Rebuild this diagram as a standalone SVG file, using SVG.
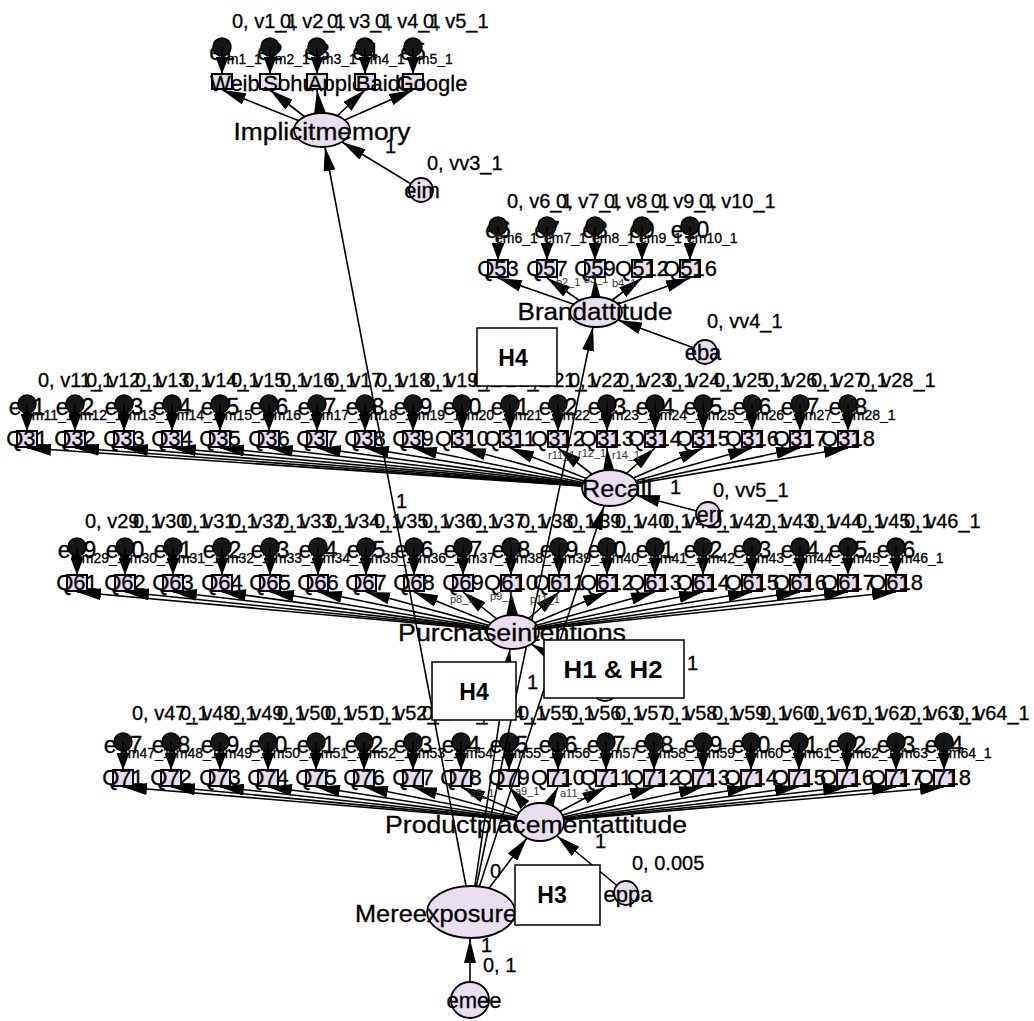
<svg xmlns="http://www.w3.org/2000/svg" width="1034" height="1021" viewBox="0 0 1034 1021">
<style>
text{font-family:"Liberation Sans",Arial,sans-serif;fill:#000;stroke:#000;stroke-width:0.3}
.p{font-size:20px}
.eb{font-size:23px;text-anchor:middle}
.es{font-size:14px}
.q{font-size:22px;text-anchor:middle}
.ql{font-size:22px;text-anchor:middle}
.lat{font-size:23px;text-anchor:middle}
.sm{font-size:11px;fill:#333;stroke:none}
.bx{fill:#e6ddf0;stroke:#000;stroke-width:2}
.ec{fill:#161616;stroke:#000;stroke-width:1.5}
.lv{fill:#e8e0f1;stroke:#000;stroke-width:1.8}
.c path{stroke:#000;stroke-width:1.6;fill:none}
.big path{marker-end:url(#ah)}
.sml path{marker-end:url(#as)}
.h{fill:#fff;stroke:#000;stroke-width:1.5}
.ht{font-weight:bold;font-size:23px;text-anchor:middle;stroke:none}
</style>
<defs>
<marker id="ah" markerUnits="userSpaceOnUse" markerWidth="24" markerHeight="12" refX="24" refY="6" orient="auto"><path d="M0,0 L24,6 L0,12 z" fill="#000"/></marker>
<marker id="as" markerUnits="userSpaceOnUse" markerWidth="17" markerHeight="13" refX="17" refY="6.5" orient="auto"><path d="M0,0 L17,6.5 L0,13 z" fill="#000"/></marker>
</defs>
<rect width="1034" height="1021" fill="#fff"/>

<!-- Layer 1: Implicit memory indicators -->
<g id="ind-implicit">
<g id="Weibo"><rect class="bx" x="212" y="74" width="20" height="15"/><text class="ql" x="241" y="91">Weibo</text></g>
<g id="Sohu"><rect class="bx" x="260" y="74" width="20" height="15"/><text class="ql" x="289" y="91">Sohu</text></g>
<g id="Apple"><rect class="bx" x="307" y="74" width="20" height="15"/><text class="ql" x="336" y="91">Apple</text></g>
<g id="Baidu"><rect class="bx" x="355" y="74" width="20" height="15"/><text class="ql" x="384" y="91">Baidu</text></g>
<g id="Google"><rect class="bx" x="403" y="74" width="20" height="15"/><text class="ql" x="432" y="91">Google</text></g>
</g>
<g id="err-implicit">
<g id="e1"><text class="eb" x="222" y="60">e1</text><text class="es" x="219" y="64">em1_1</text><circle class="ec" cx="222" cy="47" r="9"/><text class="p" x="232" y="28">0, v1_1</text></g>
<g id="e2"><text class="eb" x="270" y="60">e2</text><text class="es" x="267" y="64">em2_1</text><circle class="ec" cx="270" cy="47" r="9"/><text class="p" x="280" y="28">0, v2_1</text></g>
<g id="e3"><text class="eb" x="317" y="60">e3</text><text class="es" x="314" y="64">em3_1</text><circle class="ec" cx="317" cy="47" r="9"/><text class="p" x="327" y="28">0, v3_1</text></g>
<g id="e4"><text class="eb" x="365" y="60">e4</text><text class="es" x="362" y="64">em4_1</text><circle class="ec" cx="365" cy="47" r="9"/><text class="p" x="375" y="28">0, v4_1</text></g>
<g id="e5"><text class="eb" x="413" y="60">e5</text><text class="es" x="410" y="64">em5_1</text><circle class="ec" cx="413" cy="47" r="9"/><text class="p" x="423" y="28">0, v5_1</text></g>
</g>

<!-- Layer 2: Brand attitude indicators -->
<g id="ind-brand">
<g id="Q53"><rect class="bx" x="488" y="260" width="20" height="17"/><text class="q" x="498" y="276">Q53</text></g>
<g id="Q57"><rect class="bx" x="537" y="260" width="20" height="17"/><text class="q" x="547" y="276">Q57</text></g>
<g id="Q59"><rect class="bx" x="585" y="260" width="20" height="17"/><text class="q" x="595" y="276">Q59</text></g>
<g id="Q512"><rect class="bx" x="632" y="260" width="20" height="17"/><text class="q" x="642" y="276">Q512</text></g>
<g id="Q516"><rect class="bx" x="680" y="260" width="20" height="17"/><text class="q" x="690" y="276">Q516</text></g>
</g>
<g id="err-brand">
<g id="e6"><text class="eb" x="498" y="238">e6</text><text class="es" x="495" y="243">em6_1</text><circle class="ec" cx="498" cy="226" r="9"/><text class="p" x="507" y="208">0, v6_1</text></g>
<g id="e7"><text class="eb" x="547" y="238">e7</text><text class="es" x="544" y="243">em7_1</text><circle class="ec" cx="547" cy="226" r="9"/><text class="p" x="556" y="208">0, v7_1</text></g>
<g id="e8"><text class="eb" x="595" y="238">e8</text><text class="es" x="592" y="243">em8_1</text><circle class="ec" cx="595" cy="226" r="9"/><text class="p" x="604" y="208">0, v8_1</text></g>
<g id="e9"><text class="eb" x="642" y="238">e9</text><text class="es" x="639" y="243">em9_1</text><circle class="ec" cx="642" cy="226" r="9"/><text class="p" x="651" y="208">0, v9_1</text></g>
<g id="e10"><text class="eb" x="690" y="238">e10</text><text class="es" x="687" y="243">em10_1</text><circle class="ec" cx="690" cy="226" r="9"/><text class="p" x="699" y="208">0, v10_1</text></g>
</g>

<!-- Layer 3: Recall indicators -->
<g id="ind-recall">
<g id="Q31"><rect class="bx" x="17" y="431" width="20" height="16"/><text class="q" x="27" y="446">Q31</text></g>
<g id="Q32"><rect class="bx" x="65" y="431" width="20" height="16"/><text class="q" x="75" y="446">Q32</text></g>
<g id="Q33"><rect class="bx" x="114" y="431" width="20" height="16"/><text class="q" x="124" y="446">Q33</text></g>
<g id="Q34"><rect class="bx" x="162" y="431" width="20" height="16"/><text class="q" x="172" y="446">Q34</text></g>
<g id="Q35"><rect class="bx" x="210" y="431" width="20" height="16"/><text class="q" x="220" y="446">Q35</text></g>
<g id="Q36"><rect class="bx" x="259" y="431" width="20" height="16"/><text class="q" x="269" y="446">Q36</text></g>
<g id="Q37"><rect class="bx" x="307" y="431" width="20" height="16"/><text class="q" x="317" y="446">Q37</text></g>
<g id="Q38"><rect class="bx" x="355" y="431" width="20" height="16"/><text class="q" x="365" y="446">Q38</text></g>
<g id="Q39"><rect class="bx" x="403" y="431" width="20" height="16"/><text class="q" x="413" y="446">Q39</text></g>
<g id="Q310"><rect class="bx" x="452" y="431" width="20" height="16"/><text class="q" x="462" y="446">Q310</text></g>
<g id="Q311"><rect class="bx" x="500" y="431" width="20" height="16"/><text class="q" x="510" y="446">Q311</text></g>
<g id="Q312"><rect class="bx" x="548" y="431" width="20" height="16"/><text class="q" x="558" y="446">Q312</text></g>
<g id="Q313"><rect class="bx" x="597" y="431" width="20" height="16"/><text class="q" x="607" y="446">Q313</text></g>
<g id="Q314"><rect class="bx" x="645" y="431" width="20" height="16"/><text class="q" x="655" y="446">Q314</text></g>
<g id="Q315"><rect class="bx" x="693" y="431" width="20" height="16"/><text class="q" x="703" y="446">Q315</text></g>
<g id="Q316"><rect class="bx" x="742" y="431" width="20" height="16"/><text class="q" x="752" y="446">Q316</text></g>
<g id="Q317"><rect class="bx" x="790" y="431" width="20" height="16"/><text class="q" x="800" y="446">Q317</text></g>
<g id="Q318"><rect class="bx" x="838" y="431" width="20" height="16"/><text class="q" x="848" y="446">Q318</text></g>
</g>
<g id="err-recall">
<g id="e11"><text class="eb" x="27" y="415">e11</text><text class="es" x="24" y="420">em11_1</text><circle class="ec" cx="27" cy="404" r="9"/><text class="p" x="38" y="387">0, v11_1</text></g>
<g id="e12"><text class="eb" x="75" y="415">e12</text><text class="es" x="72" y="420">em12_1</text><circle class="ec" cx="75" cy="404" r="9"/><text class="p" x="86" y="387">0, v12_1</text></g>
<g id="e13"><text class="eb" x="124" y="415">e13</text><text class="es" x="121" y="420">em13_1</text><circle class="ec" cx="124" cy="404" r="9"/><text class="p" x="135" y="387">0, v13_1</text></g>
<g id="e14"><text class="eb" x="172" y="415">e14</text><text class="es" x="169" y="420">em14_1</text><circle class="ec" cx="172" cy="404" r="9"/><text class="p" x="183" y="387">0, v14_1</text></g>
<g id="e15"><text class="eb" x="220" y="415">e15</text><text class="es" x="217" y="420">em15_1</text><circle class="ec" cx="220" cy="404" r="9"/><text class="p" x="231" y="387">0, v15_1</text></g>
<g id="e16"><text class="eb" x="269" y="415">e16</text><text class="es" x="266" y="420">em16_1</text><circle class="ec" cx="269" cy="404" r="9"/><text class="p" x="280" y="387">0, v16_1</text></g>
<g id="e17"><text class="eb" x="317" y="415">e17</text><text class="es" x="314" y="420">em17_1</text><circle class="ec" cx="317" cy="404" r="9"/><text class="p" x="328" y="387">0, v17_1</text></g>
<g id="e18"><text class="eb" x="365" y="415">e18</text><text class="es" x="362" y="420">em18_1</text><circle class="ec" cx="365" cy="404" r="9"/><text class="p" x="376" y="387">0, v18_1</text></g>
<g id="e19"><text class="eb" x="413" y="415">e19</text><text class="es" x="410" y="420">em19_1</text><circle class="ec" cx="413" cy="404" r="9"/><text class="p" x="424" y="387">0, v19_1</text></g>
<g id="e20"><text class="eb" x="462" y="415">e20</text><text class="es" x="459" y="420">em20_1</text><circle class="ec" cx="462" cy="404" r="9"/><text class="p" x="473" y="387">0, v20_1</text></g>
<g id="e21"><text class="eb" x="510" y="415">e21</text><text class="es" x="507" y="420">em21_1</text><circle class="ec" cx="510" cy="404" r="9"/><text class="p" x="521" y="387">0, v21_1</text></g>
<g id="e22"><text class="eb" x="558" y="415">e22</text><text class="es" x="555" y="420">em22_1</text><circle class="ec" cx="558" cy="404" r="9"/><text class="p" x="569" y="387">0, v22_1</text></g>
<g id="e23"><text class="eb" x="607" y="415">e23</text><text class="es" x="604" y="420">em23_1</text><circle class="ec" cx="607" cy="404" r="9"/><text class="p" x="618" y="387">0, v23_1</text></g>
<g id="e24"><text class="eb" x="655" y="415">e24</text><text class="es" x="652" y="420">em24_1</text><circle class="ec" cx="655" cy="404" r="9"/><text class="p" x="666" y="387">0, v24_1</text></g>
<g id="e25"><text class="eb" x="703" y="415">e25</text><text class="es" x="700" y="420">em25_1</text><circle class="ec" cx="703" cy="404" r="9"/><text class="p" x="714" y="387">0, v25_1</text></g>
<g id="e26"><text class="eb" x="752" y="415">e26</text><text class="es" x="749" y="420">em26_1</text><circle class="ec" cx="752" cy="404" r="9"/><text class="p" x="763" y="387">0, v26_1</text></g>
<g id="e27"><text class="eb" x="800" y="415">e27</text><text class="es" x="797" y="420">em27_1</text><circle class="ec" cx="800" cy="404" r="9"/><text class="p" x="811" y="387">0, v27_1</text></g>
<g id="e28"><text class="eb" x="848" y="415">e28</text><text class="es" x="845" y="420">em28_1</text><circle class="ec" cx="848" cy="404" r="9"/><text class="p" x="859" y="387">0, v28_1</text></g>
</g>

<!-- Layer 4: Purchase intentions indicators -->
<g id="ind-purchase">
<g id="Q61"><rect class="bx" x="67" y="575" width="20" height="16"/><text class="q" x="77" y="590">Q61</text></g>
<g id="Q62"><rect class="bx" x="115" y="575" width="20" height="16"/><text class="q" x="125" y="590">Q62</text></g>
<g id="Q63"><rect class="bx" x="163" y="575" width="20" height="16"/><text class="q" x="173" y="590">Q63</text></g>
<g id="Q64"><rect class="bx" x="212" y="575" width="20" height="16"/><text class="q" x="222" y="590">Q64</text></g>
<g id="Q65"><rect class="bx" x="260" y="575" width="20" height="16"/><text class="q" x="270" y="590">Q65</text></g>
<g id="Q66"><rect class="bx" x="308" y="575" width="20" height="16"/><text class="q" x="318" y="590">Q66</text></g>
<g id="Q67"><rect class="bx" x="356" y="575" width="20" height="16"/><text class="q" x="366" y="590">Q67</text></g>
<g id="Q68"><rect class="bx" x="404" y="575" width="20" height="16"/><text class="q" x="414" y="590">Q68</text></g>
<g id="Q69"><rect class="bx" x="453" y="575" width="20" height="16"/><text class="q" x="463" y="590">Q69</text></g>
<g id="Q610"><rect class="bx" x="501" y="575" width="20" height="16"/><text class="q" x="511" y="590">Q610</text></g>
<g id="Q611"><rect class="bx" x="549" y="575" width="20" height="16"/><text class="q" x="559" y="590">Q611</text></g>
<g id="Q612"><rect class="bx" x="597" y="575" width="20" height="16"/><text class="q" x="607" y="590">Q612</text></g>
<g id="Q613"><rect class="bx" x="645" y="575" width="20" height="16"/><text class="q" x="655" y="590">Q613</text></g>
<g id="Q614"><rect class="bx" x="693" y="575" width="20" height="16"/><text class="q" x="703" y="590">Q614</text></g>
<g id="Q615"><rect class="bx" x="742" y="575" width="20" height="16"/><text class="q" x="752" y="590">Q615</text></g>
<g id="Q616"><rect class="bx" x="790" y="575" width="20" height="16"/><text class="q" x="800" y="590">Q616</text></g>
<g id="Q617"><rect class="bx" x="838" y="575" width="20" height="16"/><text class="q" x="848" y="590">Q617</text></g>
<g id="Q618"><rect class="bx" x="886" y="575" width="20" height="16"/><text class="q" x="896" y="590">Q618</text></g>
</g>
<g id="err-purchase">
<g id="e29"><text class="eb" x="77" y="558">e29</text><text class="es" x="74" y="563">em29_1</text><circle class="ec" cx="77" cy="547" r="9"/><text class="p" x="85" y="528">0, v29_1</text></g>
<g id="e30"><text class="eb" x="125" y="558">e30</text><text class="es" x="122" y="563">em30_1</text><circle class="ec" cx="125" cy="547" r="9"/><text class="p" x="133" y="528">0, v30_1</text></g>
<g id="e31"><text class="eb" x="173" y="558">e31</text><text class="es" x="170" y="563">em31_1</text><circle class="ec" cx="173" cy="547" r="9"/><text class="p" x="181" y="528">0, v31_1</text></g>
<g id="e32"><text class="eb" x="222" y="558">e32</text><text class="es" x="219" y="563">em32_1</text><circle class="ec" cx="222" cy="547" r="9"/><text class="p" x="230" y="528">0, v32_1</text></g>
<g id="e33"><text class="eb" x="270" y="558">e33</text><text class="es" x="267" y="563">em33_1</text><circle class="ec" cx="270" cy="547" r="9"/><text class="p" x="278" y="528">0, v33_1</text></g>
<g id="e34"><text class="eb" x="318" y="558">e34</text><text class="es" x="315" y="563">em34_1</text><circle class="ec" cx="318" cy="547" r="9"/><text class="p" x="326" y="528">0, v34_1</text></g>
<g id="e35"><text class="eb" x="366" y="558">e35</text><text class="es" x="363" y="563">em35_1</text><circle class="ec" cx="366" cy="547" r="9"/><text class="p" x="374" y="528">0, v35_1</text></g>
<g id="e36"><text class="eb" x="414" y="558">e36</text><text class="es" x="411" y="563">em36_1</text><circle class="ec" cx="414" cy="547" r="9"/><text class="p" x="422" y="528">0, v36_1</text></g>
<g id="e37"><text class="eb" x="463" y="558">e37</text><text class="es" x="460" y="563">em37_1</text><circle class="ec" cx="463" cy="547" r="9"/><text class="p" x="471" y="528">0, v37_1</text></g>
<g id="e38"><text class="eb" x="511" y="558">e38</text><text class="es" x="508" y="563">em38_1</text><circle class="ec" cx="511" cy="547" r="9"/><text class="p" x="519" y="528">0, v38_1</text></g>
<g id="e39"><text class="eb" x="559" y="558">e39</text><text class="es" x="556" y="563">em39_1</text><circle class="ec" cx="559" cy="547" r="9"/><text class="p" x="567" y="528">0, v39_1</text></g>
<g id="e40"><text class="eb" x="607" y="558">e40</text><text class="es" x="604" y="563">em40_1</text><circle class="ec" cx="607" cy="547" r="9"/><text class="p" x="615" y="528">0, v40_1</text></g>
<g id="e41"><text class="eb" x="655" y="558">e41</text><text class="es" x="652" y="563">em41_1</text><circle class="ec" cx="655" cy="547" r="9"/><text class="p" x="663" y="528">0, v41_1</text></g>
<g id="e42"><text class="eb" x="703" y="558">e42</text><text class="es" x="700" y="563">em42_1</text><circle class="ec" cx="703" cy="547" r="9"/><text class="p" x="711" y="528">0, v42_1</text></g>
<g id="e43"><text class="eb" x="752" y="558">e43</text><text class="es" x="749" y="563">em43_1</text><circle class="ec" cx="752" cy="547" r="9"/><text class="p" x="760" y="528">0, v43_1</text></g>
<g id="e44"><text class="eb" x="800" y="558">e44</text><text class="es" x="797" y="563">em44_1</text><circle class="ec" cx="800" cy="547" r="9"/><text class="p" x="808" y="528">0, v44_1</text></g>
<g id="e45"><text class="eb" x="848" y="558">e45</text><text class="es" x="845" y="563">em45_1</text><circle class="ec" cx="848" cy="547" r="9"/><text class="p" x="856" y="528">0, v45_1</text></g>
<g id="e46"><text class="eb" x="896" y="558">e46</text><text class="es" x="893" y="563">em46_1</text><circle class="ec" cx="896" cy="547" r="9"/><text class="p" x="904" y="528">0, v46_1</text></g>
</g>

<!-- Layer 5: Product placement attitude indicators -->
<g id="ind-product">
<g id="Q71"><rect class="bx" x="113" y="770" width="20" height="16"/><text class="q" x="123" y="785">Q71</text></g>
<g id="Q72"><rect class="bx" x="161" y="770" width="20" height="16"/><text class="q" x="171" y="785">Q72</text></g>
<g id="Q73"><rect class="bx" x="210" y="770" width="20" height="16"/><text class="q" x="220" y="785">Q73</text></g>
<g id="Q74"><rect class="bx" x="258" y="770" width="20" height="16"/><text class="q" x="268" y="785">Q74</text></g>
<g id="Q75"><rect class="bx" x="306" y="770" width="20" height="16"/><text class="q" x="316" y="785">Q75</text></g>
<g id="Q76"><rect class="bx" x="354" y="770" width="20" height="16"/><text class="q" x="364" y="785">Q76</text></g>
<g id="Q77"><rect class="bx" x="403" y="770" width="20" height="16"/><text class="q" x="413" y="785">Q77</text></g>
<g id="Q78"><rect class="bx" x="451" y="770" width="20" height="16"/><text class="q" x="461" y="785">Q78</text></g>
<g id="Q79"><rect class="bx" x="499" y="770" width="20" height="16"/><text class="q" x="509" y="785">Q79</text></g>
<g id="Q710"><rect class="bx" x="548" y="770" width="20" height="16"/><text class="q" x="558" y="785">Q710</text></g>
<g id="Q711"><rect class="bx" x="596" y="770" width="20" height="16"/><text class="q" x="606" y="785">Q711</text></g>
<g id="Q712"><rect class="bx" x="644" y="770" width="20" height="16"/><text class="q" x="654" y="785">Q712</text></g>
<g id="Q713"><rect class="bx" x="693" y="770" width="20" height="16"/><text class="q" x="703" y="785">Q713</text></g>
<g id="Q714"><rect class="bx" x="741" y="770" width="20" height="16"/><text class="q" x="751" y="785">Q714</text></g>
<g id="Q715"><rect class="bx" x="789" y="770" width="20" height="16"/><text class="q" x="799" y="785">Q715</text></g>
<g id="Q716"><rect class="bx" x="837" y="770" width="20" height="16"/><text class="q" x="847" y="785">Q716</text></g>
<g id="Q717"><rect class="bx" x="886" y="770" width="20" height="16"/><text class="q" x="896" y="785">Q717</text></g>
<g id="Q718"><rect class="bx" x="934" y="770" width="20" height="16"/><text class="q" x="944" y="785">Q718</text></g>
</g>
<g id="err-product">
<g id="e47"><text class="eb" x="123" y="753">e47</text><text class="es" x="120" y="758">em47_1</text><circle class="ec" cx="123" cy="742" r="9"/><text class="p" x="132" y="720">0, v47_1</text></g>
<g id="e48"><text class="eb" x="171" y="753">e48</text><text class="es" x="168" y="758">em48_1</text><circle class="ec" cx="171" cy="742" r="9"/><text class="p" x="180" y="720">0, v48_1</text></g>
<g id="e49"><text class="eb" x="220" y="753">e49</text><text class="es" x="217" y="758">em49_1</text><circle class="ec" cx="220" cy="742" r="9"/><text class="p" x="229" y="720">0, v49_1</text></g>
<g id="e50"><text class="eb" x="268" y="753">e50</text><text class="es" x="265" y="758">em50_1</text><circle class="ec" cx="268" cy="742" r="9"/><text class="p" x="277" y="720">0, v50_1</text></g>
<g id="e51"><text class="eb" x="316" y="753">e51</text><text class="es" x="313" y="758">em51_1</text><circle class="ec" cx="316" cy="742" r="9"/><text class="p" x="325" y="720">0, v51_1</text></g>
<g id="e52"><text class="eb" x="364" y="753">e52</text><text class="es" x="361" y="758">em52_1</text><circle class="ec" cx="364" cy="742" r="9"/><text class="p" x="373" y="720">0, v52_1</text></g>
<g id="e53"><text class="eb" x="413" y="753">e53</text><text class="es" x="410" y="758">em53_1</text><circle class="ec" cx="413" cy="742" r="9"/><text class="p" x="422" y="720">0, v53_1</text></g>
<g id="e54"><text class="eb" x="461" y="753">e54</text><text class="es" x="458" y="758">em54_1</text><circle class="ec" cx="461" cy="742" r="9"/><text class="p" x="470" y="720">0, v54_1</text></g>
<g id="e55"><text class="eb" x="509" y="753">e55</text><text class="es" x="506" y="758">em55_1</text><circle class="ec" cx="509" cy="742" r="9"/><text class="p" x="518" y="720">0, v55_1</text></g>
<g id="e56"><text class="eb" x="558" y="753">e56</text><text class="es" x="555" y="758">em56_1</text><circle class="ec" cx="558" cy="742" r="9"/><text class="p" x="567" y="720">0, v56_1</text></g>
<g id="e57"><text class="eb" x="606" y="753">e57</text><text class="es" x="603" y="758">em57_1</text><circle class="ec" cx="606" cy="742" r="9"/><text class="p" x="615" y="720">0, v57_1</text></g>
<g id="e58"><text class="eb" x="654" y="753">e58</text><text class="es" x="651" y="758">em58_1</text><circle class="ec" cx="654" cy="742" r="9"/><text class="p" x="663" y="720">0, v58_1</text></g>
<g id="e59"><text class="eb" x="703" y="753">e59</text><text class="es" x="700" y="758">em59_1</text><circle class="ec" cx="703" cy="742" r="9"/><text class="p" x="712" y="720">0, v59_1</text></g>
<g id="e60"><text class="eb" x="751" y="753">e60</text><text class="es" x="748" y="758">em60_1</text><circle class="ec" cx="751" cy="742" r="9"/><text class="p" x="760" y="720">0, v60_1</text></g>
<g id="e61"><text class="eb" x="799" y="753">e61</text><text class="es" x="796" y="758">em61_1</text><circle class="ec" cx="799" cy="742" r="9"/><text class="p" x="808" y="720">0, v61_1</text></g>
<g id="e62"><text class="eb" x="847" y="753">e62</text><text class="es" x="844" y="758">em62_1</text><circle class="ec" cx="847" cy="742" r="9"/><text class="p" x="856" y="720">0, v62_1</text></g>
<g id="e63"><text class="eb" x="896" y="753">e63</text><text class="es" x="893" y="758">em63_1</text><circle class="ec" cx="896" cy="742" r="9"/><text class="p" x="905" y="720">0, v63_1</text></g>
<g id="e64"><text class="eb" x="944" y="753">e64</text><text class="es" x="941" y="758">em64_1</text><circle class="ec" cx="944" cy="742" r="9"/><text class="p" x="953" y="720">0, v64_1</text></g>
</g>

<!-- Connectors -->
<g id="connectors" class="c">
<g class="sml">
<path d="M222 47 L222 74"/><path d="M270 47 L270 74"/><path d="M317 47 L317 74"/><path d="M365 47 L365 74"/><path d="M413 47 L413 74"/>
<path d="M498 226 L498 260"/><path d="M547 226 L547 260"/><path d="M595 226 L595 260"/><path d="M642 226 L642 260"/><path d="M690 226 L690 260"/>
<path d="M27 404 L27 431"/><path d="M75 404 L75 431"/><path d="M124 404 L124 431"/><path d="M172 404 L172 431"/><path d="M220 404 L220 431"/><path d="M269 404 L269 431"/><path d="M317 404 L317 431"/><path d="M365 404 L365 431"/><path d="M413 404 L413 431"/><path d="M462 404 L462 431"/><path d="M510 404 L510 431"/><path d="M558 404 L558 431"/><path d="M607 404 L607 431"/><path d="M655 404 L655 431"/><path d="M703 404 L703 431"/><path d="M752 404 L752 431"/><path d="M800 404 L800 431"/><path d="M848 404 L848 431"/>
<path d="M77 547 L77 575"/><path d="M125 547 L125 575"/><path d="M173 547 L173 575"/><path d="M222 547 L222 575"/><path d="M270 547 L270 575"/><path d="M318 547 L318 575"/><path d="M366 547 L366 575"/><path d="M414 547 L414 575"/><path d="M463 547 L463 575"/><path d="M511 547 L511 575"/><path d="M559 547 L559 575"/><path d="M607 547 L607 575"/><path d="M655 547 L655 575"/><path d="M703 547 L703 575"/><path d="M752 547 L752 575"/><path d="M800 547 L800 575"/><path d="M848 547 L848 575"/><path d="M896 547 L896 575"/>
<path d="M123 742 L123 770"/><path d="M171 742 L171 770"/><path d="M220 742 L220 770"/><path d="M268 742 L268 770"/><path d="M316 742 L316 770"/><path d="M364 742 L364 770"/><path d="M413 742 L413 770"/><path d="M461 742 L461 770"/><path d="M509 742 L509 770"/><path d="M558 742 L558 770"/><path d="M606 742 L606 770"/><path d="M654 742 L654 770"/><path d="M703 742 L703 770"/><path d="M751 742 L751 770"/><path d="M799 742 L799 770"/><path d="M847 742 L847 770"/><path d="M896 742 L896 770"/><path d="M944 742 L944 770"/>
</g>
<g class="big">
<path d="M322 130 L222 90"/><path d="M322 130 L270 90"/><path d="M322 130 L317 90"/><path d="M322 130 L365 90"/><path d="M322 130 L413 90"/>
<path d="M596 312 L498 278"/><path d="M596 312 L547 278"/><path d="M596 312 L595 278"/><path d="M596 312 L642 278"/><path d="M596 312 L690 278"/>
<path d="M610 488 L27 448"/><path d="M610 488 L75 448"/><path d="M610 488 L124 448"/><path d="M610 488 L172 448"/><path d="M610 488 L220 448"/><path d="M610 488 L269 448"/><path d="M610 488 L317 448"/><path d="M610 488 L365 448"/><path d="M610 488 L413 448"/><path d="M610 488 L462 448"/><path d="M610 488 L510 448"/><path d="M610 488 L558 448"/><path d="M610 488 L607 448"/><path d="M610 488 L655 448"/><path d="M610 488 L703 448"/><path d="M610 488 L752 448"/><path d="M610 488 L800 448"/><path d="M610 488 L848 448"/>
<path d="M513 632 L77 592"/><path d="M513 632 L125 592"/><path d="M513 632 L173 592"/><path d="M513 632 L222 592"/><path d="M513 632 L270 592"/><path d="M513 632 L318 592"/><path d="M513 632 L366 592"/><path d="M513 632 L414 592"/><path d="M513 632 L463 592"/><path d="M513 632 L511 592"/><path d="M513 632 L559 592"/><path d="M513 632 L607 592"/><path d="M513 632 L655 592"/><path d="M513 632 L703 592"/><path d="M513 632 L752 592"/><path d="M513 632 L800 592"/><path d="M513 632 L848 592"/><path d="M513 632 L896 592"/>
<path d="M540 822 L123 787"/><path d="M540 822 L171 787"/><path d="M540 822 L220 787"/><path d="M540 822 L268 787"/><path d="M540 822 L316 787"/><path d="M540 822 L364 787"/><path d="M540 822 L413 787"/><path d="M540 822 L461 787"/><path d="M540 822 L509 787"/><path d="M540 822 L558 787"/><path d="M540 822 L606 787"/><path d="M540 822 L654 787"/><path d="M540 822 L703 787"/><path d="M540 822 L751 787"/><path d="M540 822 L799 787"/><path d="M540 822 L847 787"/><path d="M540 822 L896 787"/><path d="M540 822 L944 787"/>
<path d="M471 912 L325 147"/>
<path d="M471 912 L593 327"/>
<path d="M471 912 L604 506"/>
<path d="M471 912 L510 649"/>
<path d="M471 912 L527 838"/>
<path d="M421 190 L342 142"/>
<path d="M705 352 L618 320"/>
<path d="M708 514 L636 495"/>
<path d="M605 688 L531 644"/>
<path d="M626 893 L557 836"/>
<path d="M470 1000 L470 939"/>
</g>
</g>

<!-- small weight labels -->
<g id="weights">
<text class="sm" x="556" y="286">b2_1</text><text class="sm" x="584" y="283">b3_1</text><text class="sm" x="612" y="287">b4_1</text>
<text class="sm" x="548" y="459">r11_1</text><text class="sm" x="578" y="457">r12_1</text><text class="sm" x="612" y="459">r14_1</text>
<text class="sm" x="450" y="603">p8_1</text><text class="sm" x="490" y="600">p9_1</text><text class="sm" x="530" y="603">p11_1</text>
<text class="sm" x="470" y="797">a8_1</text><text class="sm" x="515" y="795">a9_1</text><text class="sm" x="560" y="797">a11_1</text>
</g>

<!-- Latent variables -->
<g id="Implicitmemory"><ellipse class="lv" cx="322" cy="130" rx="28" ry="17"/><text class="lat" x="322" y="140" textLength="177" lengthAdjust="spacingAndGlyphs">Implicitmemory</text></g>
<g id="Brandattitude"><ellipse class="lv" cx="596" cy="312" rx="26" ry="15"/><text class="lat" x="595" y="320" textLength="155" lengthAdjust="spacingAndGlyphs">Brandattitude</text></g>
<g id="Recall"><ellipse class="lv" cx="610" cy="488" rx="28" ry="18"/><text class="lat" x="617" y="497" textLength="70" lengthAdjust="spacingAndGlyphs">Recall</text></g>
<g id="Purchaseintentions"><ellipse class="lv" cx="513" cy="632" rx="26" ry="17"/><text class="lat" x="512" y="641" textLength="228" lengthAdjust="spacingAndGlyphs">Purchaseintentions</text></g>
<g id="Productplacementattitude"><ellipse class="lv" cx="540" cy="822" rx="24" ry="19"/><text class="lat" x="536" y="833" textLength="302" lengthAdjust="spacingAndGlyphs">Productplacementattitude</text></g>
<g id="Mereexposure"><ellipse class="lv" cx="471" cy="912" rx="44" ry="26"/><text class="lat" x="436" y="922" textLength="162" lengthAdjust="spacingAndGlyphs">Mereexposure</text></g>

<!-- Structural errors -->
<g id="eim"><circle class="lv" cx="421" cy="190" r="12"/><text class="ql" x="422" y="198">eim</text><text class="p" x="427" y="170">0, vv3_1</text></g>
<g id="eba"><circle class="lv" cx="705" cy="352" r="12"/><text class="ql" x="703" y="360">eba</text><text class="p" x="707" y="328">0, vv4_1</text></g>
<g id="err"><circle class="lv" cx="708" cy="514" r="12"/><text class="ql" x="710" y="522">err</text><text class="p" x="713" y="497">0, vv5_1</text></g>
<g id="epi"><circle class="lv" cx="605" cy="688" r="13"/></g>
<g id="eppa"><circle class="lv" cx="626" cy="893" r="12"/><text class="ql" x="628" y="902">eppa</text><text class="p" x="632" y="870">0, 0.005</text></g>
<g id="emee"><ellipse class="lv" cx="470" cy="1000" rx="19" ry="18"/><text class="ql" x="474" y="1008">emee</text><text class="p" x="483" y="972">0, 1</text></g>

<!-- path weight labels -->
<g id="path-labels">
<text class="p" x="385" y="153">1</text>
<text class="p" x="670" y="494">1</text>
<text class="p" x="396" y="508">1</text>
<text class="p" x="527" y="689">1</text>
<text class="p" x="687" y="670">1</text>
<text class="p" x="595" y="848">1</text>
<text class="p" x="481" y="952">1</text>
<text class="p" x="490" y="878">0</text>
</g>

<!-- Hypothesis boxes -->
<g id="H4-top"><rect class="h" x="477" y="328" width="80" height="58"/><text class="ht" x="513" y="366">H4</text></g>
<g id="H4-low"><rect class="h" x="432" y="662" width="84" height="58"/><text class="ht" x="474" y="700">H4</text></g>
<g id="H1H2"><rect class="h" x="544" y="640" width="140" height="58"/><text class="ht" x="613" y="678" textLength="99" lengthAdjust="spacingAndGlyphs">H1 &amp; H2</text></g>
<g id="H3"><rect class="h" x="515" y="865" width="85" height="60"/><text class="ht" x="552" y="903">H3</text></g>
</svg>
